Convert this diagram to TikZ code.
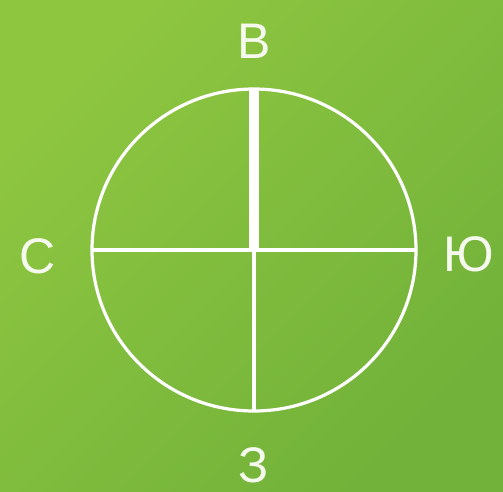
\documentclass[tikz,border=0pt]{standalone}
\usepackage{fontspec}
\setmainfont{Liberation Sans}
\definecolor{bglight}{HTML}{8EC640}
\definecolor{bgdark}{HTML}{72B23A}
\definecolor{ink}{HTML}{F6F9EE}
\begin{document}
\begin{tikzpicture}[x=1pt,y=-1pt,
  lbl/.style={text=ink,font=\fontsize{50}{50}\selectfont,inner sep=0pt,anchor=center},
  thin/.style={draw=white,line width=3.2pt},
  thick/.style={draw=white,line width=10pt}]
\shade[shading=axis,top color=bglight,bottom color=bgdark,shading angle=45] (0,0) rectangle (503,492);
\useasboundingbox (0,0) rectangle (503,492);
\coordinate (c) at (254,250);
\coordinate (n) at (254,89);
\coordinate (s) at (254,411);
\coordinate (w) at (92,250);
\coordinate (e) at (416,250);
\draw[thin] (c) ellipse [x radius=162, y radius=161];
\draw[thin] (w) -- (e);
\draw[thin] (c) -- (s);
\draw[thick] (c) -- (n);
\node[lbl] (tb) at (254,41) {В};
\node[lbl] (tc) at (38,256) {С};
\node[lbl] (ty) at (469,254) {Ю};
\node[lbl] (tz) at (254,465) {З};
\end{tikzpicture}
\end{document}
